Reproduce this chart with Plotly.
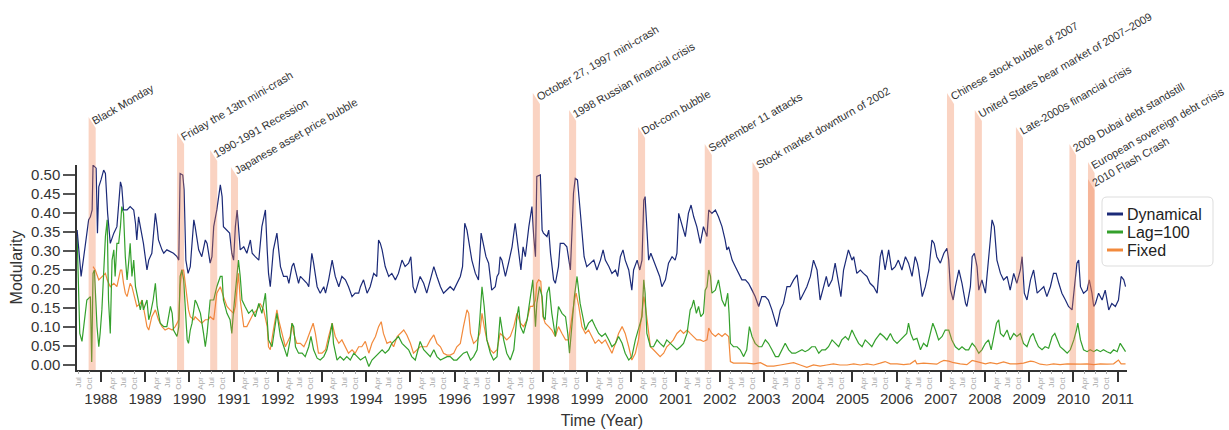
import datetime
import plotly.graph_objects as go

# ---------------- data ----------------
dynamical = [
    (1987.46, 0.355), (1987.55, 0.233), (1987.65, 0.320), (1987.72, 0.382), (1987.76, 0.390),
    (1987.80, 0.408), (1987.82, 0.526), (1987.87, 0.522), (1987.89, 0.518), (1987.92, 0.347),
    (1987.95, 0.469), (1988.00, 0.487), (1988.06, 0.513), (1988.10, 0.504), (1988.15, 0.399),
    (1988.21, 0.320), (1988.29, 0.347), (1988.36, 0.364), (1988.40, 0.425), (1988.44, 0.482),
    (1988.47, 0.469), (1988.51, 0.408), (1988.59, 0.408), (1988.66, 0.417), (1988.74, 0.408),
    (1988.78, 0.373), (1988.81, 0.329), (1988.85, 0.390), (1988.89, 0.364), (1988.96, 0.320),
    (1989.04, 0.250), (1989.08, 0.276), (1989.15, 0.294), (1989.23, 0.399), (1989.27, 0.364),
    (1989.30, 0.329), (1989.38, 0.303), (1989.42, 0.294), (1989.49, 0.303), (1989.57, 0.298),
    (1989.64, 0.294), (1989.72, 0.285), (1989.76, 0.276), (1989.79, 0.504), (1989.85, 0.500),
    (1989.88, 0.461), (1989.92, 0.276), (1989.97, 0.241), (1990.02, 0.259), (1990.10, 0.382),
    (1990.13, 0.364), (1990.21, 0.303), (1990.28, 0.285), (1990.36, 0.329), (1990.40, 0.320),
    (1990.47, 0.268), (1990.51, 0.285), (1990.55, 0.364), (1990.62, 0.408), (1990.70, 0.474),
    (1990.74, 0.443), (1990.77, 0.364), (1990.85, 0.355), (1990.91, 0.347), (1990.96, 0.294),
    (1991.00, 0.276), (1991.04, 0.364), (1991.08, 0.408), (1991.11, 0.364), (1991.15, 0.303),
    (1991.23, 0.311), (1991.30, 0.294), (1991.38, 0.329), (1991.42, 0.294), (1991.49, 0.285),
    (1991.57, 0.276), (1991.64, 0.364), (1991.72, 0.408), (1991.76, 0.303), (1991.79, 0.241),
    (1991.83, 0.206), (1991.90, 0.303), (1991.98, 0.347), (1992.02, 0.303), (1992.06, 0.259),
    (1992.13, 0.233), (1992.21, 0.233), (1992.25, 0.215), (1992.32, 0.259), (1992.36, 0.268),
    (1992.40, 0.250), (1992.47, 0.215), (1992.51, 0.233), (1992.59, 0.224), (1992.66, 0.215),
    (1992.70, 0.206), (1992.74, 0.268), (1992.77, 0.294), (1992.81, 0.268), (1992.89, 0.206),
    (1992.96, 0.189), (1993.04, 0.206), (1993.08, 0.189), (1993.15, 0.224), (1993.23, 0.276),
    (1993.26, 0.259), (1993.30, 0.233), (1993.38, 0.206), (1993.45, 0.233), (1993.53, 0.224),
    (1993.60, 0.206), (1993.68, 0.180), (1993.75, 0.189), (1993.83, 0.189), (1993.87, 0.206),
    (1993.94, 0.224), (1994.02, 0.189), (1994.09, 0.206), (1994.17, 0.241), (1994.24, 0.233),
    (1994.28, 0.329), (1994.32, 0.320), (1994.36, 0.303), (1994.43, 0.259), (1994.51, 0.233),
    (1994.58, 0.241), (1994.66, 0.224), (1994.73, 0.241), (1994.81, 0.276), (1994.88, 0.259),
    (1994.96, 0.268), (1995.01, 0.285), (1995.06, 0.206), (1995.11, 0.189), (1995.22, 0.233),
    (1995.30, 0.215), (1995.37, 0.189), (1995.45, 0.224), (1995.53, 0.259), (1995.60, 0.233),
    (1995.68, 0.206), (1995.75, 0.189), (1995.83, 0.197), (1995.90, 0.206), (1995.98, 0.197),
    (1996.05, 0.215), (1996.13, 0.233), (1996.18, 0.259), (1996.23, 0.373), (1996.28, 0.355),
    (1996.36, 0.303), (1996.39, 0.276), (1996.47, 0.241), (1996.54, 0.224), (1996.60, 0.347),
    (1996.66, 0.311), (1996.71, 0.285), (1996.77, 0.268), (1996.81, 0.224), (1996.84, 0.197),
    (1996.92, 0.206), (1996.96, 0.233), (1997.00, 0.241), (1997.03, 0.285), (1997.07, 0.276),
    (1997.15, 0.233), (1997.22, 0.268), (1997.30, 0.311), (1997.37, 0.373), (1997.41, 0.338),
    (1997.45, 0.294), (1997.50, 0.250), (1997.55, 0.311), (1997.60, 0.285), (1997.68, 0.364),
    (1997.71, 0.390), (1997.75, 0.417), (1997.79, 0.338), (1997.83, 0.285), (1997.86, 0.496),
    (1997.94, 0.500), (1997.98, 0.355), (1998.01, 0.347), (1998.09, 0.338), (1998.13, 0.355),
    (1998.17, 0.294), (1998.24, 0.224), (1998.28, 0.215), (1998.35, 0.259), (1998.39, 0.320),
    (1998.47, 0.320), (1998.54, 0.311), (1998.58, 0.285), (1998.62, 0.250), (1998.66, 0.364),
    (1998.69, 0.452), (1998.73, 0.491), (1998.78, 0.487), (1998.84, 0.408), (1998.88, 0.347),
    (1998.93, 0.285), (1998.99, 0.259), (1999.07, 0.268), (1999.15, 0.276), (1999.22, 0.250),
    (1999.30, 0.276), (1999.36, 0.303), (1999.41, 0.276), (1999.49, 0.259), (1999.56, 0.241),
    (1999.64, 0.250), (1999.69, 0.233), (1999.75, 0.285), (1999.81, 0.303), (1999.86, 0.276),
    (1999.94, 0.250), (2000.01, 0.197), (2000.05, 0.250), (2000.13, 0.276), (2000.19, 0.250),
    (2000.24, 0.276), (2000.28, 0.434), (2000.31, 0.443), (2000.35, 0.364), (2000.39, 0.276),
    (2000.44, 0.294), (2000.50, 0.276), (2000.58, 0.250), (2000.64, 0.233), (2000.69, 0.206),
    (2000.77, 0.224), (2000.84, 0.268), (2000.92, 0.285), (2000.99, 0.276), (2001.03, 0.294),
    (2001.07, 0.399), (2001.14, 0.373), (2001.22, 0.338), (2001.29, 0.399), (2001.35, 0.421),
    (2001.41, 0.390), (2001.48, 0.364), (2001.56, 0.320), (2001.63, 0.364), (2001.71, 0.338),
    (2001.75, 0.408), (2001.82, 0.399), (2001.90, 0.408), (2001.97, 0.390), (2002.05, 0.364),
    (2002.12, 0.329), (2002.16, 0.303), (2002.20, 0.311), (2002.28, 0.276), (2002.35, 0.259),
    (2002.43, 0.241), (2002.50, 0.224), (2002.58, 0.224), (2002.65, 0.215), (2002.73, 0.197),
    (2002.80, 0.180), (2002.88, 0.154), (2002.95, 0.180), (2003.03, 0.180), (2003.10, 0.171),
    (2003.18, 0.145), (2003.26, 0.110), (2003.29, 0.101), (2003.37, 0.145), (2003.44, 0.162),
    (2003.52, 0.206), (2003.59, 0.206), (2003.67, 0.224), (2003.75, 0.237), (2003.82, 0.171),
    (2003.90, 0.189), (2003.97, 0.206), (2004.05, 0.233), (2004.12, 0.276), (2004.20, 0.250),
    (2004.27, 0.171), (2004.35, 0.206), (2004.41, 0.233), (2004.46, 0.206), (2004.54, 0.224),
    (2004.61, 0.268), (2004.69, 0.215), (2004.74, 0.180), (2004.80, 0.250), (2004.88, 0.285),
    (2004.91, 0.303), (2004.99, 0.276), (2005.03, 0.285), (2005.10, 0.241), (2005.18, 0.250),
    (2005.25, 0.241), (2005.33, 0.233), (2005.40, 0.215), (2005.48, 0.206), (2005.56, 0.189),
    (2005.63, 0.285), (2005.67, 0.303), (2005.74, 0.250), (2005.82, 0.303), (2005.89, 0.250),
    (2005.97, 0.259), (2006.04, 0.276), (2006.12, 0.250), (2006.20, 0.285), (2006.27, 0.268),
    (2006.35, 0.233), (2006.42, 0.285), (2006.47, 0.268), (2006.50, 0.250), (2006.58, 0.180),
    (2006.65, 0.206), (2006.73, 0.250), (2006.80, 0.329), (2006.85, 0.320), (2006.91, 0.285),
    (2006.99, 0.268), (2007.07, 0.294), (2007.14, 0.307), (2007.18, 0.276), (2007.22, 0.197),
    (2007.28, 0.171), (2007.33, 0.206), (2007.41, 0.250), (2007.48, 0.215), (2007.56, 0.162),
    (2007.59, 0.154), (2007.67, 0.206), (2007.71, 0.285), (2007.76, 0.294), (2007.82, 0.259),
    (2007.86, 0.197), (2007.93, 0.224), (2008.01, 0.189), (2008.08, 0.268), (2008.12, 0.329),
    (2008.16, 0.382), (2008.21, 0.364), (2008.27, 0.276), (2008.35, 0.241), (2008.42, 0.224),
    (2008.50, 0.233), (2008.57, 0.197), (2008.65, 0.241), (2008.72, 0.215), (2008.80, 0.250),
    (2008.84, 0.285), (2008.89, 0.189), (2008.95, 0.171), (2009.03, 0.224), (2009.10, 0.250),
    (2009.18, 0.189), (2009.25, 0.197), (2009.33, 0.206), (2009.40, 0.180), (2009.48, 0.206),
    (2009.55, 0.241), (2009.61, 0.241), (2009.67, 0.215), (2009.74, 0.189), (2009.82, 0.171),
    (2009.89, 0.154), (2009.97, 0.145), (2010.04, 0.215), (2010.08, 0.268), (2010.12, 0.276),
    (2010.16, 0.206), (2010.23, 0.189), (2010.31, 0.197), (2010.36, 0.224), (2010.42, 0.189),
    (2010.46, 0.154), (2010.50, 0.162), (2010.57, 0.189), (2010.65, 0.171), (2010.72, 0.197),
    (2010.80, 0.145), (2010.87, 0.162), (2010.95, 0.154), (2011.02, 0.171), (2011.08, 0.233),
    (2011.14, 0.224), (2011.18, 0.206),
]

lag100 = [
    (1987.46, 0.338), (1987.49, 0.162), (1987.52, 0.083), (1987.57, 0.062), (1987.61, 0.101),
    (1987.68, 0.171), (1987.76, 0.180), (1987.79, 0.008), (1987.82, 0.241), (1987.85, 0.250),
    (1987.91, 0.101), (1987.95, 0.048), (1987.98, 0.083), (1988.02, 0.145), (1988.10, 0.338),
    (1988.14, 0.382), (1988.17, 0.171), (1988.21, 0.083), (1988.25, 0.276), (1988.29, 0.303),
    (1988.32, 0.233), (1988.36, 0.320), (1988.40, 0.320), (1988.44, 0.364), (1988.47, 0.417),
    (1988.51, 0.399), (1988.55, 0.285), (1988.59, 0.224), (1988.63, 0.276), (1988.66, 0.320),
    (1988.70, 0.233), (1988.74, 0.276), (1988.78, 0.206), (1988.81, 0.189), (1988.89, 0.145),
    (1988.93, 0.171), (1988.96, 0.145), (1989.04, 0.171), (1989.08, 0.119), (1989.12, 0.136),
    (1989.18, 0.171), (1989.23, 0.215), (1989.27, 0.154), (1989.34, 0.110), (1989.42, 0.101),
    (1989.49, 0.101), (1989.57, 0.154), (1989.61, 0.136), (1989.64, 0.092), (1989.72, 0.075),
    (1989.76, 0.101), (1989.79, 0.233), (1989.83, 0.250), (1989.87, 0.224), (1989.91, 0.145),
    (1989.95, 0.066), (1989.98, 0.057), (1990.02, 0.092), (1990.06, 0.110), (1990.13, 0.171),
    (1990.17, 0.162), (1990.25, 0.136), (1990.32, 0.083), (1990.36, 0.048), (1990.40, 0.083),
    (1990.47, 0.171), (1990.55, 0.171), (1990.62, 0.206), (1990.70, 0.233), (1990.74, 0.233),
    (1990.77, 0.171), (1990.85, 0.136), (1990.92, 0.119), (1990.96, 0.083), (1991.00, 0.145),
    (1991.08, 0.233), (1991.11, 0.276), (1991.15, 0.233), (1991.19, 0.171), (1991.26, 0.154),
    (1991.34, 0.136), (1991.42, 0.145), (1991.49, 0.127), (1991.57, 0.162), (1991.64, 0.136),
    (1991.72, 0.189), (1991.76, 0.127), (1991.79, 0.066), (1991.87, 0.048), (1991.94, 0.101),
    (1991.98, 0.136), (1992.06, 0.075), (1992.13, 0.048), (1992.21, 0.022), (1992.28, 0.066),
    (1992.32, 0.110), (1992.36, 0.101), (1992.40, 0.048), (1992.47, 0.031), (1992.55, 0.031),
    (1992.62, 0.022), (1992.70, 0.048), (1992.75, 0.075), (1992.81, 0.040), (1992.89, 0.018),
    (1992.96, 0.013), (1993.04, 0.022), (1993.11, 0.040), (1993.19, 0.083), (1993.23, 0.110),
    (1993.26, 0.057), (1993.34, 0.013), (1993.41, 0.022), (1993.49, 0.013), (1993.56, 0.022),
    (1993.64, 0.013), (1993.72, 0.031), (1993.79, 0.022), (1993.87, 0.013), (1993.98, 0.022),
    (1994.06, -0.004), (1994.13, 0.013), (1994.21, 0.022), (1994.28, 0.031), (1994.36, 0.040),
    (1994.43, 0.031), (1994.51, 0.040), (1994.58, 0.057), (1994.66, 0.066), (1994.73, 0.075),
    (1994.81, 0.057), (1994.88, 0.048), (1994.96, 0.040), (1995.03, 0.022), (1995.11, 0.013),
    (1995.19, 0.048), (1995.22, 0.062), (1995.30, 0.040), (1995.37, 0.031), (1995.45, 0.022),
    (1995.53, 0.040), (1995.60, 0.022), (1995.68, 0.013), (1995.75, 0.018), (1995.83, 0.022),
    (1995.90, 0.022), (1995.98, 0.013), (1996.05, 0.013), (1996.13, 0.022), (1996.20, 0.031),
    (1996.28, 0.035), (1996.36, 0.013), (1996.43, 0.022), (1996.51, 0.040), (1996.57, 0.119),
    (1996.62, 0.206), (1996.67, 0.154), (1996.73, 0.066), (1996.81, 0.031), (1996.88, 0.013),
    (1996.96, 0.022), (1997.03, 0.127), (1997.11, 0.066), (1997.18, 0.031), (1997.26, 0.013),
    (1997.34, 0.040), (1997.41, 0.127), (1997.45, 0.154), (1997.49, 0.101), (1997.56, 0.083),
    (1997.64, 0.119), (1997.71, 0.180), (1997.77, 0.224), (1997.83, 0.101), (1997.86, 0.162),
    (1997.92, 0.206), (1997.98, 0.180), (1998.01, 0.127), (1998.05, 0.119), (1998.09, 0.189),
    (1998.14, 0.206), (1998.20, 0.136), (1998.28, 0.075), (1998.35, 0.154), (1998.43, 0.136),
    (1998.51, 0.127), (1998.56, 0.083), (1998.60, 0.031), (1998.66, 0.110), (1998.71, 0.180),
    (1998.77, 0.233), (1998.81, 0.189), (1998.84, 0.162), (1998.90, 0.127), (1998.96, 0.092),
    (1999.03, 0.110), (1999.11, 0.119), (1999.18, 0.101), (1999.26, 0.083), (1999.33, 0.075),
    (1999.41, 0.083), (1999.49, 0.066), (1999.56, 0.048), (1999.64, 0.057), (1999.71, 0.075),
    (1999.79, 0.057), (1999.86, 0.031), (1999.94, 0.013), (2000.01, 0.022), (2000.09, 0.066),
    (2000.16, 0.092), (2000.24, 0.127), (2000.28, 0.224), (2000.31, 0.189), (2000.35, 0.083),
    (2000.43, 0.048), (2000.50, 0.048), (2000.58, 0.066), (2000.65, 0.057), (2000.73, 0.048),
    (2000.80, 0.066), (2000.88, 0.057), (2000.95, 0.048), (2001.03, 0.040), (2001.11, 0.048),
    (2001.18, 0.057), (2001.26, 0.083), (2001.33, 0.145), (2001.37, 0.154), (2001.41, 0.171),
    (2001.47, 0.136), (2001.52, 0.154), (2001.57, 0.127), (2001.63, 0.136), (2001.67, 0.197),
    (2001.71, 0.206), (2001.75, 0.250), (2001.79, 0.233), (2001.82, 0.189), (2001.90, 0.197),
    (2001.97, 0.224), (2002.05, 0.171), (2002.12, 0.154), (2002.18, 0.189), (2002.21, 0.136),
    (2002.24, 0.057), (2002.31, 0.048), (2002.39, 0.048), (2002.46, 0.040), (2002.54, 0.022),
    (2002.61, 0.040), (2002.67, 0.101), (2002.73, 0.075), (2002.80, 0.057), (2002.88, 0.048),
    (2002.95, 0.048), (2003.03, 0.066), (2003.10, 0.057), (2003.18, 0.040), (2003.26, 0.022),
    (2003.33, 0.022), (2003.40, 0.040), (2003.48, 0.057), (2003.56, 0.040), (2003.63, 0.031),
    (2003.71, 0.031), (2003.78, 0.035), (2003.86, 0.040), (2003.93, 0.035), (2004.01, 0.040),
    (2004.08, 0.048), (2004.16, 0.048), (2004.24, 0.031), (2004.31, 0.040), (2004.39, 0.040),
    (2004.46, 0.048), (2004.54, 0.066), (2004.61, 0.057), (2004.69, 0.048), (2004.76, 0.066),
    (2004.84, 0.075), (2004.91, 0.066), (2004.99, 0.092), (2005.06, 0.075), (2005.14, 0.057),
    (2005.22, 0.048), (2005.29, 0.066), (2005.37, 0.057), (2005.44, 0.048), (2005.52, 0.066),
    (2005.59, 0.075), (2005.63, 0.083), (2005.71, 0.075), (2005.78, 0.066), (2005.86, 0.083),
    (2005.93, 0.066), (2006.01, 0.057), (2006.08, 0.066), (2006.16, 0.075), (2006.23, 0.083),
    (2006.27, 0.110), (2006.32, 0.083), (2006.38, 0.066), (2006.46, 0.070), (2006.54, 0.040),
    (2006.61, 0.057), (2006.69, 0.048), (2006.76, 0.083), (2006.82, 0.110), (2006.88, 0.092),
    (2006.95, 0.066), (2007.03, 0.075), (2007.10, 0.092), (2007.18, 0.092), (2007.25, 0.066),
    (2007.33, 0.048), (2007.41, 0.040), (2007.48, 0.048), (2007.56, 0.040), (2007.63, 0.040),
    (2007.71, 0.057), (2007.78, 0.048), (2007.86, 0.031), (2007.93, 0.040), (2008.01, 0.057),
    (2008.08, 0.066), (2008.14, 0.040), (2008.20, 0.075), (2008.26, 0.110), (2008.31, 0.119),
    (2008.35, 0.083), (2008.42, 0.075), (2008.50, 0.092), (2008.57, 0.066), (2008.65, 0.083),
    (2008.72, 0.075), (2008.80, 0.083), (2008.87, 0.057), (2008.95, 0.048), (2009.03, 0.075),
    (2009.09, 0.083), (2009.14, 0.066), (2009.21, 0.048), (2009.29, 0.040), (2009.36, 0.048),
    (2009.44, 0.044), (2009.52, 0.075), (2009.58, 0.083), (2009.63, 0.066), (2009.70, 0.048),
    (2009.78, 0.040), (2009.86, 0.031), (2009.93, 0.040), (2010.01, 0.066), (2010.07, 0.092),
    (2010.10, 0.110), (2010.16, 0.066), (2010.23, 0.040), (2010.31, 0.035), (2010.38, 0.040),
    (2010.46, 0.035), (2010.53, 0.040), (2010.61, 0.035), (2010.68, 0.040), (2010.76, 0.035),
    (2010.84, 0.031), (2010.91, 0.040), (2010.99, 0.035), (2011.06, 0.057), (2011.14, 0.040),
    (2011.18, 0.035),
]

fixed = [
    (1987.82, 0.259), (1987.87, 0.250), (1987.95, 0.224), (1988.02, 0.233), (1988.10, 0.241),
    (1988.14, 0.224), (1988.21, 0.206), (1988.29, 0.215), (1988.36, 0.206), (1988.44, 0.250),
    (1988.47, 0.250), (1988.51, 0.215), (1988.55, 0.189), (1988.59, 0.180), (1988.66, 0.215),
    (1988.70, 0.206), (1988.78, 0.171), (1988.81, 0.154), (1988.89, 0.162), (1988.93, 0.171),
    (1989.00, 0.127), (1989.04, 0.101), (1989.08, 0.092), (1989.12, 0.110), (1989.15, 0.127),
    (1989.23, 0.145), (1989.30, 0.119), (1989.38, 0.101), (1989.45, 0.092), (1989.53, 0.097),
    (1989.61, 0.092), (1989.68, 0.101), (1989.76, 0.119), (1989.79, 0.206), (1989.83, 0.250),
    (1989.87, 0.250), (1989.91, 0.206), (1989.95, 0.171), (1989.98, 0.145), (1990.02, 0.127),
    (1990.10, 0.119), (1990.13, 0.127), (1990.21, 0.119), (1990.28, 0.110), (1990.36, 0.119),
    (1990.43, 0.119), (1990.47, 0.127), (1990.55, 0.119), (1990.62, 0.189), (1990.70, 0.206),
    (1990.77, 0.180), (1990.85, 0.154), (1990.92, 0.145), (1991.00, 0.136), (1991.04, 0.154),
    (1991.08, 0.206), (1991.11, 0.241), (1991.15, 0.171), (1991.23, 0.101), (1991.30, 0.101),
    (1991.38, 0.119), (1991.45, 0.136), (1991.53, 0.145), (1991.60, 0.162), (1991.68, 0.145),
    (1991.76, 0.101), (1991.79, 0.048), (1991.83, 0.040), (1991.90, 0.092), (1991.98, 0.145),
    (1992.02, 0.119), (1992.09, 0.083), (1992.17, 0.048), (1992.28, 0.075), (1992.32, 0.110),
    (1992.36, 0.083), (1992.43, 0.057), (1992.51, 0.057), (1992.59, 0.048), (1992.66, 0.066),
    (1992.74, 0.092), (1992.80, 0.110), (1992.85, 0.083), (1992.92, 0.031), (1993.00, 0.031),
    (1993.08, 0.040), (1993.15, 0.075), (1993.23, 0.110), (1993.30, 0.075), (1993.38, 0.057),
    (1993.45, 0.066), (1993.53, 0.048), (1993.60, 0.031), (1993.68, 0.040), (1993.75, 0.031),
    (1993.83, 0.048), (1993.90, 0.048), (1993.98, 0.062), (1994.06, 0.031), (1994.13, 0.057),
    (1994.21, 0.075), (1994.28, 0.101), (1994.34, 0.114), (1994.39, 0.083), (1994.47, 0.057),
    (1994.55, 0.062), (1994.62, 0.048), (1994.70, 0.075), (1994.77, 0.083), (1994.85, 0.092),
    (1994.92, 0.079), (1995.00, 0.057), (1995.07, 0.031), (1995.15, 0.040), (1995.22, 0.048),
    (1995.30, 0.048), (1995.37, 0.048), (1995.45, 0.066), (1995.53, 0.079), (1995.60, 0.057),
    (1995.68, 0.048), (1995.75, 0.031), (1995.83, 0.026), (1995.90, 0.026), (1995.98, 0.031),
    (1996.05, 0.048), (1996.13, 0.057), (1996.20, 0.101), (1996.28, 0.145), (1996.32, 0.136),
    (1996.36, 0.083), (1996.43, 0.057), (1996.51, 0.066), (1996.57, 0.083), (1996.62, 0.136),
    (1996.67, 0.101), (1996.73, 0.066), (1996.81, 0.040), (1996.88, 0.031), (1996.96, 0.040),
    (1997.03, 0.083), (1997.11, 0.075), (1997.18, 0.066), (1997.26, 0.075), (1997.34, 0.101),
    (1997.41, 0.136), (1997.49, 0.110), (1997.56, 0.101), (1997.64, 0.119), (1997.71, 0.154),
    (1997.77, 0.154), (1997.83, 0.171), (1997.86, 0.215), (1997.90, 0.224), (1997.95, 0.220),
    (1998.00, 0.127), (1998.05, 0.110), (1998.13, 0.101), (1998.20, 0.092), (1998.28, 0.075),
    (1998.35, 0.101), (1998.43, 0.083), (1998.51, 0.066), (1998.58, 0.066), (1998.66, 0.136),
    (1998.71, 0.171), (1998.75, 0.189), (1998.81, 0.154), (1998.88, 0.101), (1998.96, 0.083),
    (1999.03, 0.092), (1999.11, 0.075), (1999.18, 0.057), (1999.26, 0.066), (1999.33, 0.057),
    (1999.41, 0.066), (1999.49, 0.048), (1999.56, 0.031), (1999.64, 0.057), (1999.71, 0.083),
    (1999.79, 0.101), (1999.86, 0.083), (1999.94, 0.048), (2000.01, 0.013), (2000.09, 0.031),
    (2000.16, 0.066), (2000.24, 0.136), (2000.28, 0.180), (2000.31, 0.162), (2000.37, 0.101),
    (2000.43, 0.048), (2000.50, 0.040), (2000.58, 0.031), (2000.65, 0.022), (2000.73, 0.031),
    (2000.80, 0.048), (2000.88, 0.057), (2000.95, 0.066), (2001.03, 0.083), (2001.11, 0.092),
    (2001.18, 0.083), (2001.26, 0.092), (2001.33, 0.083), (2001.41, 0.075), (2001.48, 0.066),
    (2001.56, 0.066), (2001.63, 0.062), (2001.71, 0.066), (2001.75, 0.097), (2001.82, 0.083),
    (2001.90, 0.075), (2001.97, 0.083), (2002.05, 0.075), (2002.12, 0.083), (2002.20, 0.075),
    (2002.24, 0.009), (2002.31, 0.005), (2002.46, 0.005), (2002.61, 0.005), (2002.77, 0.003),
    (2002.92, 0.006), (2003.07, -0.003), (2003.22, -0.003), (2003.37, 0.000), (2003.52, 0.003),
    (2003.67, 0.006), (2003.82, 0.000), (2003.97, -0.006), (2004.12, 0.000), (2004.27, -0.003),
    (2004.42, 0.000), (2004.57, 0.003), (2004.72, 0.000), (2004.88, 0.000), (2005.03, 0.003),
    (2005.18, 0.000), (2005.33, 0.003), (2005.48, 0.000), (2005.63, 0.005), (2005.74, 0.009),
    (2005.86, 0.003), (2006.01, 0.003), (2006.16, 0.001), (2006.31, 0.003), (2006.42, 0.012),
    (2006.46, 0.003), (2006.61, 0.005), (2006.76, 0.003), (2006.91, 0.002), (2006.99, 0.008),
    (2007.07, 0.012), (2007.18, 0.010), (2007.29, 0.006), (2007.44, 0.003), (2007.59, 0.001),
    (2007.71, 0.012), (2007.78, 0.010), (2007.89, 0.008), (2008.01, 0.003), (2008.12, 0.006),
    (2008.27, 0.003), (2008.42, 0.008), (2008.57, 0.003), (2008.72, 0.003), (2008.87, 0.005),
    (2009.03, 0.010), (2009.10, 0.009), (2009.25, 0.002), (2009.40, 0.000), (2009.55, 0.003),
    (2009.70, 0.001), (2009.86, 0.003), (2010.01, 0.002), (2010.16, 0.002), (2010.31, 0.003),
    (2010.46, 0.001), (2010.61, 0.003), (2010.76, 0.002), (2010.91, 0.003), (2011.02, 0.013),
    (2011.08, 0.003), (2011.18, 0.003),
]

# event name, start (decimal year), end (decimal year)
events = [
    ("Black Monday", 1987.72, 1987.88),
    ("Friday the 13th mini-crash", 1989.72, 1989.88),
    ("1990-1991 Recession", 1990.47, 1990.63),
    ("Japanese asset price bubble", 1990.94, 1991.10),
    ("October 27, 1997 mini-crash", 1997.77, 1997.93),
    ("1998 Russian financial crisis", 1998.59, 1998.75),
    ("Dot-com bubble", 2000.15, 2000.31),
    ("September 11 attacks", 2001.66, 2001.82),
    ("Stock market downturn of 2002", 2002.74, 2002.89),
    ("Chinese stock bubble of 2007", 2007.14, 2007.30),
    ("United States bear market of 2007\u20132009", 2007.77, 2007.93),
    ("Late-2000s financial crisis", 2008.70, 2008.86),
    ("2009 Dubai debt standstill", 2009.91, 2010.06),
    ("European sovereign debt crisis", 2010.33, 2010.48),
    ("2010 Flash Crash", 2010.33, 2010.48),
]

year_ticks = list(range(1988, 2012))
minor_months = [(4, "Apr"), (7, "Jul"), (10, "Oct")]
y_ticks = [0.00, 0.05, 0.10, 0.15, 0.20, 0.25, 0.30, 0.35, 0.40, 0.45, 0.50]

series_names = ["Dynamical", "Lag=100", "Fixed"]

# ---------------- layout / style ----------------
W, H = 1229, 430
ML, MR, MT, MB = 77, 102, 165, 60
PW, PH = W - ML - MR, H - MT - MB
X_RANGE = [1987.457, 2011.213]
Y_RANGE = [-0.0132, 0.5263]
FONT = "Liberation Sans"
TXT = "#333333"
colors = {"Dynamical": "#1b2a78", "Lag=100": "#34a02c", "Fixed": "#f28a3c"}
label_top_px = [117, 133, 150, 167, 93, 110, 127, 144, 162, 93, 110, 127, 144, 162, 179]
span_fill = "rgba(240,120,70,0.33)"


def py2paper(py):
    return (H - MB - py) / PH


def px2paper(px):
    return (px - ML) / PW


def year_frac(y, m):
    d0 = datetime.date(y, 1, 1)
    d1 = datetime.date(y + 1, 1, 1)
    return y + (datetime.date(y, m, 1) - d0).days / (d1 - d0).days


fig = go.Figure()

series = {"Dynamical": dynamical, "Lag=100": lag100, "Fixed": fixed}
for name in ["Fixed", "Lag=100", "Dynamical"]:
    pts = series[name]
    fig.add_trace(go.Scatter(
        x=[p[0] for p in pts], y=[p[1] for p in pts], mode="lines", name=name,
        line=dict(color=colors[name], width=1.2), showlegend=False,
        hoverinfo="x+y+name",
    ))

# dummy trace to carry the month-label axis
fig.add_trace(go.Scatter(x=[X_RANGE[0]], y=[None], xaxis="x2", yaxis="y",
                         mode="lines", showlegend=False, hoverinfo="skip"))

# month ticks
m_vals, m_text = [], []
for yr in range(1987, 2012):
    for m, lab in minor_months:
        v = year_frac(yr, m)
        if X_RANGE[0] <= v <= X_RANGE[1]:
            m_vals.append(v)
            m_text.append(lab)

shapes = []
annotations = []
for (name, x0, x1), top in zip(events, label_top_px):
    yl = py2paper(top)
    yr = py2paper(top + 11)
    shapes.append(dict(
        type="path", xref="x", yref="paper", layer="above",
        path=f"M {x0},0 L {x1},0 L {x1},{yr} L {x0},{yl} Z",
        fillcolor=span_fill, line=dict(width=0),
    ))
    annotations.append(dict(
        x=x0, xref="x", y=yr, yref="paper", text=name, showarrow=False,
        textangle=-30, xanchor="left", yanchor="bottom",
        font=dict(family=FONT, size=11, color=TXT), borderpad=0,
    ))

# manual legend
bx0, bx1, by0, by1 = px2paper(1102), px2paper(1213), py2paper(266), py2paper(197)
rx, ry = 5 / PW, 5 / PH
shapes.append(dict(
    type="path", xref="paper", yref="paper", layer="above",
    path=(f"M {bx0+rx},{by0} L {bx1-rx},{by0} Q {bx1},{by0} {bx1},{by0+ry} "
          f"L {bx1},{by1-ry} Q {bx1},{by1} {bx1-rx},{by1} L {bx0+rx},{by1} "
          f"Q {bx0},{by1} {bx0},{by1-ry} L {bx0},{by0+ry} Q {bx0},{by0} {bx0+rx},{by0} Z"),
    fillcolor="white", line=dict(color="#dddddd", width=1),
))
for i, name in enumerate(series_names):
    ry_ = py2paper(214 + i * 18)
    shapes.append(dict(type="line", xref="paper", yref="paper", layer="above",
                       x0=px2paper(1107), x1=px2paper(1123), y0=ry_, y1=ry_,
                       line=dict(color=colors[name], width=3)))
    annotations.append(dict(x=px2paper(1125), xref="paper", y=ry_, yref="paper",
                            text=name, showarrow=False, xanchor="left", yanchor="middle",
                            font=dict(family=FONT, size=16, color="#222222")))

fig.update_layout(
    width=W, height=H,
    margin=dict(l=ML, r=MR, t=MT, b=MB, autoexpand=False),
    paper_bgcolor="white", plot_bgcolor="white",
    font=dict(family=FONT, color=TXT),
    showlegend=False,
    xaxis=dict(
        range=X_RANGE, tickmode="array", tickvals=year_ticks,
        ticktext=[str(y) for y in year_ticks],
        ticks="outside", ticklen=10, tickwidth=1.5, tickcolor="#333333",
        showline=True, linecolor="#333333", linewidth=1.5,
        showgrid=False, zeroline=False,
        tickfont=dict(family=FONT, size=15, color=TXT),
        ticklabelstandoff=4,
        title=dict(text="Time (Year)", font=dict(family=FONT, size=16, color=TXT), standoff=9),
    ),
    xaxis2=dict(
        overlaying="x", anchor="y", side="bottom", range=X_RANGE,
        tickmode="array", tickvals=m_vals, ticktext=m_text,
        ticks="outside", ticklen=3, tickwidth=1, tickcolor="#aaaaaa",
        tickangle=-90, tickfont=dict(family=FONT, size=8, color="#aaaaaa"),
        showline=False, showgrid=False, zeroline=False,
    ),
    yaxis=dict(
        range=Y_RANGE, tickmode="array", tickvals=y_ticks, tickformat=".2f",
        ticks="outside", ticklen=12, tickwidth=1.5, tickcolor="#555555",
        showline=True, linecolor="#333333", linewidth=1.5,
        showgrid=False, zeroline=False,
        tickfont=dict(family=FONT, size=15, color=TXT),
        title=dict(text="Modularity", font=dict(family=FONT, size=16, color=TXT), standoff=4),
    ),
    shapes=shapes, annotations=annotations,
)

fig.write_html(
    "out.html",
    config={"displayModeBar": False},
    post_script="document.body.style.margin='0';document.body.style.overflow='hidden';",
)
